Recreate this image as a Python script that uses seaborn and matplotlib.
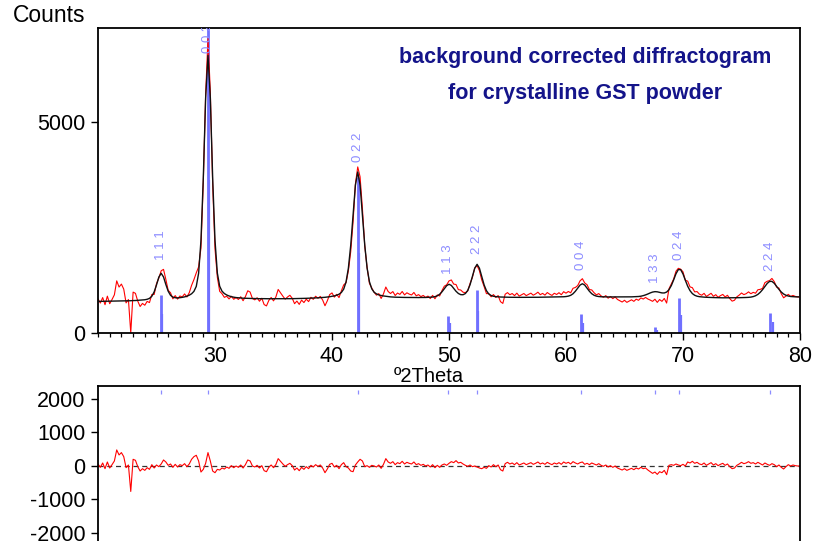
import numpy as np
import pandas as pd
import matplotlib
matplotlib.use("Agg")
import matplotlib.pyplot as plt
import seaborn as sns
from matplotlib.ticker import MultipleLocator, FixedLocator

# ---------------- data ----------------
two_theta = np.linspace(20.0, 80.0, 301)   # scan positions, 0.2 deg step

calc_counts = [
    756, 757, 757, 758, 760, 761, 762, 762, 763, 766,        # 20.0-21.8
    766, 767, 770, 770, 772, 776, 777, 781, 785, 788,        # 22
    795, 806, 828, 878, 981, 1146, 1331, 1422, 1335, 1156,   # 24
    997, 900, 857, 843, 840, 844, 852, 863, 880, 903,        # 26
    937, 994, 1112, 1424, 2199, 3684, 5579, 6584, 5580, 3685,  # 28
    2202, 1428, 1115, 998, 942, 908, 885, 868, 856, 847,     # 30
    842, 836, 832, 830, 828, 827, 824, 823, 822, 820,        # 32
    821, 821, 819, 819, 819, 819, 819, 819, 819, 820,        # 34
    819, 820, 821, 821, 822, 823, 825, 827, 828, 829,        # 36
    831, 833, 835, 838, 841, 844, 849, 853, 860, 867,        # 38
    877, 887, 903, 926, 967, 1047, 1217, 1543, 2085, 2805,   # 40
    3508, 3823, 3509, 2807, 2088, 1547, 1222, 1053, 973, 934,  # 42
    910, 896, 885, 877, 870, 863, 859, 856, 854, 852,        # 44
    851, 850, 850, 849, 848, 848, 848, 847, 849, 848,        # 46
    849, 852, 853, 859, 869, 888, 925, 983, 1057, 1129,      # 48
    1162, 1134, 1066, 996, 944, 916, 914, 942, 1015, 1151,   # 50
    1344, 1544, 1635, 1543, 1343, 1148, 1010, 932, 895, 878,  # 52
    869, 864, 860, 858, 856, 854, 854, 853, 853, 852,        # 54
    852, 852, 853, 853, 853, 852, 853, 853, 854, 855,        # 56
    856, 855, 856, 857, 858, 859, 860, 862, 864, 866,        # 58
    871, 881, 900, 937, 996, 1071, 1143, 1174, 1143, 1071,   # 60
    996, 938, 901, 881, 871, 866, 864, 863, 862, 861,        # 62
    862, 862, 862, 861, 861, 862, 863, 864, 864, 867,        # 64
    869, 872, 879, 892, 910, 932, 957, 977, 987, 983,        # 66
    970, 957, 956, 977, 1033, 1130, 1265, 1411, 1510, 1509,  # 68
    1406, 1257, 1116, 1010, 941, 901, 879, 868, 862, 857,    # 70
    853, 851, 848, 847, 845, 843, 842, 841, 842, 841,        # 72
    842, 842, 843, 844, 844, 845, 847, 849, 852, 858,        # 74
    870, 890, 922, 971, 1035, 1110, 1183, 1230, 1230, 1185,  # 76
    1114, 1041, 978, 931, 901, 883, 872, 867, 864, 863,      # 78
    862,                                                     # 80
]

diff_counts = [
    60, -40, 90, -80, 120, -60, 40, 150, 480, 330,           # 20.0-21.8
    400, 280, -50, 30, -760, 200, 170, -20, -150, -80,       # 22
    -130, -50, -100, 40, -60, 30, -20, 60, 180, 120,         # 24
    20, 60, -40, 50, -30, 40, 10, 70, -20, 60,               # 26
    200, 280, 320, 150, -180, -100, 80, 400, 150, -150,      # 28
    -200, -100, -120, -60, -90, -30, -70, 10, -50, 0,        # 30
    -40, 30, -60, 40, 180, 150, 0, -30, 20, -60,             # 32
    10, -140, -170, -40, 30, -50, 40, 220, 140, 60,          # 34
    -10, 40, 80, 10, -120, -60, -140, -40, -100, -20,        # 36
    -80, 20, -30, 40, -10, 30, -60, -200, -90, 50,           # 38
    80, -30, 20, -80, 40, 100, -20, -60, -150, -170,         # 40
    30, 120, 200, 150, -20, 10, -40, 20, 0, -30,             # 42
    30, -70, 50, 220, 120, 80, 130, 40, 100, 70,             # 44
    140, 60, 110, 80, 60, 120, 40, 70, 20, 50,               # 46
    0, 30, -30, 40, -50, 20, -40, 30, 60, 20,                # 48
    80, 130, 100, 160, 90, 110, 60, 20, -10, 30,             # 50
    -20, 0, -30, -60, -80, -40, -70, 10, -30, 40,            # 52
    -20, 30, -110, -150, 70, 110, 60, 90, 40, 100,           # 54
    30, 60, 90, 40, 70, 100, 50, 80, 120, 60,                # 56
    90, 50, 110, 70, 40, 90, 60, 100, 50, 120,               # 58
    80, 110, 60, 130, 90, 60, 100, 120, 50, 80,              # 60
    40, 90, 60, 30, 70, 20, -10, 30, -30, 10,                # 62
    -40, 0, -60, -90, -120, -80, -130, -100, -70, -110,      # 64
    -60, -90, -40, -80, -60, -120, -170, -220, -180, -250,   # 66
    -170, -200, -130, -260, 20, 40, 20, 60, 30, 10,          # 68
    50, 0, 120, 90, 140, 80, 110, 60, 40, 90,                # 70
    20, 60, 100, 30, 70, 10, 50, 80, 20, 60,                 # 72
    -20, -80, -60, 20, 60, 110, 70, 90, 130, 80,             # 74
    100, 60, 110, 70, 30, 90, 50, 20, 70, 40,                # 76
    -20, 30, -40, -90, -20, 40, 0, 30, 10, 0,                # 78
    0,                                                       # 80
]

hkl_labels = ["1 1 1", "0 0 2", "0 2 2", "1 1 3", "2 2 2",
              "0 0 4", "1 3 3", "0 2 4", "2 2 4"]
ref_pos_a1 = [25.36, 29.38, 42.24, 49.95, 52.37, 61.30, 67.60, 69.64, 77.45]
ref_int_a1 = [908, 7300, 3711, 418, 1026, 457, 157, 844, 488]
ref_pos_a2 = [25.43, 29.46, 42.35, 50.09, 52.51, 61.47, 67.79, 69.84, 77.68]
ref_int_a2 = [454, 3630, 1900, 237, 536, 251, 80, 434, 275]
label_base = [1737, 6650, 4066, 1406, 1872, 1500, 1200, 1737, 1483]

assert len(calc_counts) == len(two_theta) == len(diff_counts)

df = pd.DataFrame({
    "two_theta": two_theta,
    "calc": np.array(calc_counts, float),
    "diff": np.array(diff_counts, float),
})
df["obs"] = df["calc"] + df["diff"]

# ---------------- styling ----------------
sns.set_theme(style="ticks")
plt.rcParams["font.family"] = ["Liberation Sans", "DejaVu Sans"]
plt.rcParams["axes.unicode_minus"] = False
plt.rcParams["text.color"] = "black"
plt.rcParams["xtick.color"] = "black"
plt.rcParams["ytick.color"] = "black"
plt.rcParams["xtick.labelcolor"] = "black"
plt.rcParams["ytick.labelcolor"] = "black"

W, H, DPI = 816, 541, 100
fig = plt.figure(figsize=(W / DPI, H / DPI), dpi=DPI, facecolor="white")

def px_rect(left, top, right, bottom):
    return [left / W, 1 - bottom / H, (right - left) / W, (bottom - top) / H]

ax = fig.add_axes(px_rect(98, 28, 800, 333.3))
ax2 = fig.add_axes(px_rect(98, 386, 800, 553))

stick_col = "#7070ff"
label_col = "#8c8cff"
tick_fs = 15.5

for a in (ax, ax2):
    a.set_facecolor("white")
    for s in a.spines.values():
        s.set_visible(True)
        s.set_linewidth(1.3)
        s.set_color("black")

# reference sticks
ax.vlines(ref_pos_a1, 0, ref_int_a1, color=stick_col, lw=2.0, zorder=1)
ax.vlines(ref_pos_a2, 0, ref_int_a2, color=stick_col, lw=1.6, zorder=1)

# observed and calculated
sns.lineplot(data=df, x="two_theta", y="obs", ax=ax, color="#ff0000",
             lw=0.8, estimator=None, zorder=2)
sns.lineplot(data=df, x="two_theta", y="calc", ax=ax, color="#111111",
             lw=1.0, estimator=None, zorder=3)

for pos, lab, yb in zip(ref_pos_a1, hkl_labels, label_base):
    ax.text(pos, yb, lab, rotation=90, ha="center", va="bottom",
            fontsize=9.5, color=label_col, clip_on=True, zorder=4)

ax.set_xlim(20, 80)
ax.set_ylim(0, 7235)
ax.xaxis.set_major_locator(FixedLocator([30, 40, 50, 60, 70, 80]))
ax.xaxis.set_minor_locator(MultipleLocator(1))
ax.yaxis.set_major_locator(FixedLocator([0, 5000]))
ax.tick_params(axis="both", which="major", direction="out", length=5,
               width=1.0, labelsize=tick_fs, color="black",
               labelcolor="black")
ax.tick_params(axis="x", which="major", pad=4.5)
ax.tick_params(axis="y", which="major", pad=4)
ax.tick_params(axis="x", which="minor", direction="out", length=3,
               width=0.9, color="black")
ax.set_xlabel("")
ax.set_ylabel("")

# difference panel
sns.lineplot(data=df, x="two_theta", y="diff", ax=ax2, color="#ff0000",
             lw=0.8, estimator=None, zorder=2)
ax2.axhline(0, color="#333333", lw=0.9, ls=(0, (4, 3)), zorder=1)
ax2.vlines(ref_pos_a1, 2160, 2270, color=label_col, lw=0.9, zorder=3)
ax2.set_xlim(20, 80)
ax2.set_ylim(-2597, 2388)
ax2.yaxis.set_major_locator(FixedLocator([-2000, -1000, 0, 1000, 2000]))
ax2.xaxis.set_major_locator(FixedLocator([30, 40, 50, 60, 70, 80]))
ax2.tick_params(axis="y", which="major", direction="out", length=5,
                width=1.0, labelsize=tick_fs, pad=4, color="black",
                labelcolor="black")
ax2.tick_params(axis="x", labelbottom=False)
ax2.set_xlabel("")
ax2.set_ylabel("")

# texts
fig.text(13 / W, 1 - 16 / H, "Counts", ha="left", va="center",
         fontsize=16.5, color="black")
fig.text(429 / W, 1 - 376 / H, "º2Theta", ha="center", va="center",
         fontsize=14.5, color="black")
title_col = "#14148a"
fig.text(585 / W, 1 - 58 / H, "background corrected diffractogram",
         ha="center", va="center", fontsize=15.5, fontweight="bold",
         color=title_col)
fig.text(585 / W, 1 - 93 / H, "for crystalline GST powder",
         ha="center", va="center", fontsize=15.5, fontweight="bold",
         color=title_col)

fig.savefig("out.png", dpi=DPI, facecolor="white")
